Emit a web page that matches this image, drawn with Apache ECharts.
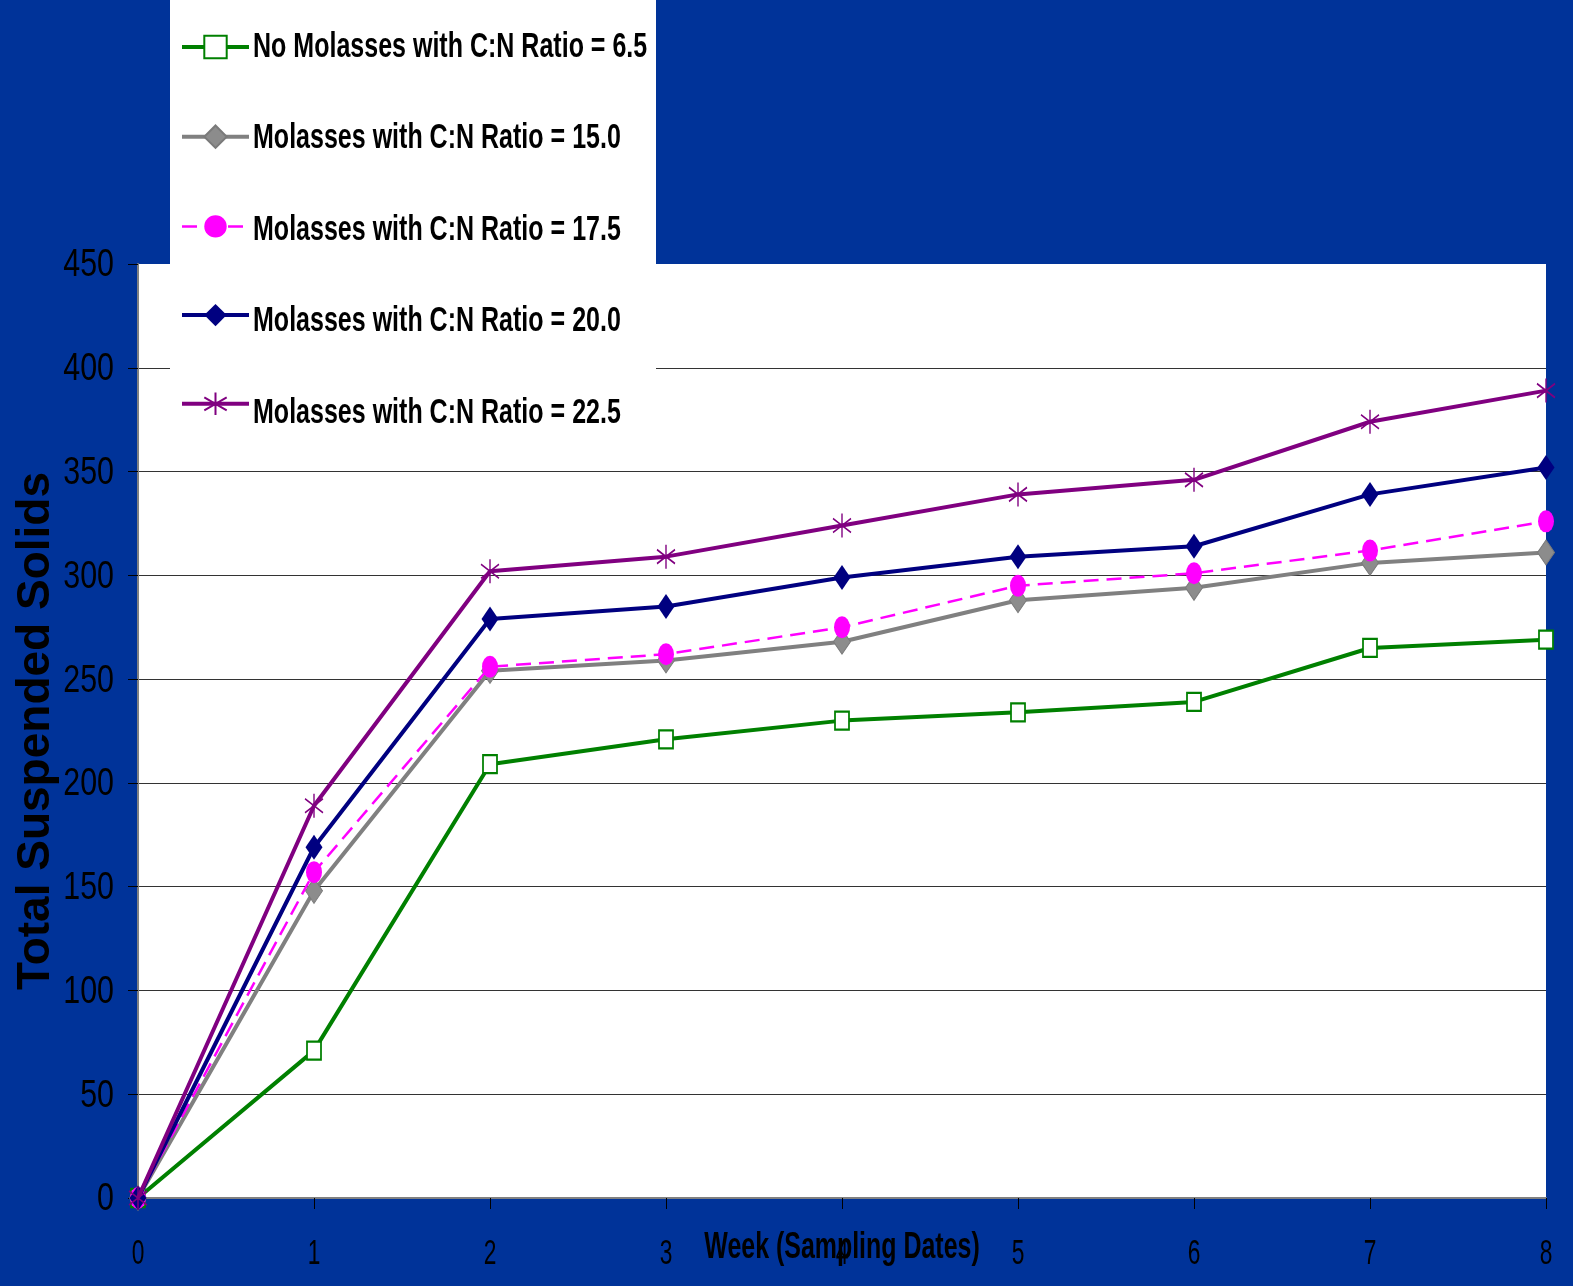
<!DOCTYPE html>
<html>
<head>
<meta charset="utf-8">
<script src="https://cdn.jsdelivr.net/npm/echarts@6/dist/echarts.min.js"></script>
<style>
html,body{margin:0;padding:0;background:#003399;overflow:hidden;}
#chart{width:1573px;height:1286px;}
</style>
</head>
<body>
<div id="chart"></div>
<script>
const weeks = ['0','1','2','3','4','5','6','7','8'];
const yTicks = [0, 50, 100, 150, 200, 250, 300, 350, 400, 450];
const seriesNames = [
  'No Molasses with C:N Ratio = 6.5',
  'Molasses with C:N Ratio = 15.0',
  'Molasses with C:N Ratio = 17.5',
  'Molasses with C:N Ratio = 20.0',
  'Molasses with C:N Ratio = 22.5'
];
const xAxisTitle = 'Week (Sampling Dates)';
const yAxisTitle = 'Total Suspended Solids';
const cn65  = [0, 71, 209, 221, 230, 234, 239, 265, 269];
const cn150 = [0, 148, 254, 259, 268, 288, 294, 306, 311];
const cn175 = [0, 157, 256, 262, 275, 295, 301, 312, 326];
const cn200 = [0, 169, 279, 285, 299, 309, 314, 339, 352];
const cn225 = [0, 189, 302, 309, 324, 339, 346, 374, 389];

const SANS = "'Liberation Sans',Arial,sans-serif";
const ASTERISK = 'path://M10,0 L10,24 M0,5 L20,19 M0,19 L20,5';

const chart = echarts.init(document.getElementById('chart'), null, {renderer:'canvas'});
const yMin = yTicks[0], yMax = yTicks[yTicks.length-1];
const gridColors = yTicks.map((v,i)=> i === yTicks.length-1 ? 'rgba(0,0,0,0)' : '#333333');

const legendTop = 47, legendStep = 91.5;
const lineWidths = [4, 4, 2.5, 4, 4];

chart.setOption({
  backgroundColor: '#003399',
  animation: false,
  legend: {
    orient: 'vertical',
    left: 180, top: legendTop - 14,
    padding: 0,
    itemWidth: 67, itemHeight: 28,
    itemGap: legendStep - 28,
    z: 5,
    formatter: () => '',
    textStyle: {fontSize: 1, color: 'rgba(0,0,0,0)'},
    data: seriesNames.map((n, i) => ({name: n, lineStyle: {width: lineWidths[i]}}))
  },
  grid: {
    left: 138, right: 27, top: 264, bottom: 88,
    show: true, backgroundColor: '#ffffff', borderWidth: 0,
    containLabel: false, outerBoundsMode: 'none'
  },
  xAxis: {
    type: 'category', data: weeks, boundaryGap: false,
    axisLine: {show: true, lineStyle: {color: '#808080', width: 2}},
    axisTick: {show: true, inside: false, length: 11, alignWithLabel: true, lineStyle: {color: '#000', width: 1}},
    axisLabel: {show: false},
    splitLine: {show: false}
  },
  yAxis: {
    type: 'value', min: yMin, max: yMax, interval: 50,
    name: yAxisTitle, nameLocation: 'middle', nameGap: 79, nameRotate: 90,
    nameTextStyle: {fontFamily: SANS, fontWeight: 'bold', fontSize: 46, color: '#000'},
    axisLine: {show: true, lineStyle: {color: '#808080', width: 2}},
    axisTick: {show: true, inside: false, length: 10, lineStyle: {color: '#000', width: 1}},
    axisLabel: {show: false},
    splitLine: {show: true, lineStyle: {color: gridColors, width: 1}}
  },
  series: [
    {
      name: seriesNames[0], type: 'line', data: cn65, clip: false,
      symbol: 'rect', symbolSize: [14, 18],
      lineStyle: {color: '#008000', width: lineWidths[0]},
      itemStyle: {color: '#ffffff', borderColor: '#008000', borderWidth: 2},
      z: 2
    },
    {
      name: seriesNames[1], type: 'line', data: cn150, clip: false,
      symbol: 'diamond', symbolSize: [17, 25],
      lineStyle: {color: '#808080', width: lineWidths[1]},
      itemStyle: {color: '#8c8c8c', borderColor: '#7a7a7a', borderWidth: 1},
      z: 3
    },
    {
      name: seriesNames[2], type: 'line', data: cn175, clip: false,
      symbol: 'circle', symbolSize: [16, 22],
      lineStyle: {color: '#ff00ff', width: lineWidths[2], type: [15, 8]},
      itemStyle: {color: '#ff00ff', borderWidth: 0},
      z: 4
    },
    {
      name: seriesNames[3], type: 'line', data: cn200, clip: false,
      symbol: 'diamond', symbolSize: [17, 25],
      lineStyle: {color: '#000080', width: lineWidths[3]},
      itemStyle: {color: '#000080', borderWidth: 0},
      z: 5
    },
    {
      name: seriesNames[4], type: 'line', data: cn225, clip: false,
      symbol: ASTERISK, symbolSize: [18, 24], symbolKeepAspect: false,
      lineStyle: {color: '#800080', width: lineWidths[4]},
      itemStyle: {color: '#800080', borderColor: '#800080', borderWidth: 1.6},
      z: 6
    }
  ]
});

// Condensed (narrow-face look) texts, placed through the library's own axis scales.
const axisX0 = chart.convertToPixel({xAxisIndex: 0}, weeks[0]);
const axisY0 = chart.convertToPixel({yAxisIndex: 0}, yMin);
const xMid = (chart.convertToPixel({xAxisIndex: 0}, weeks[0]) + chart.convertToPixel({xAxisIndex: 0}, weeks[weeks.length-1])) / 2;

const graphics = [{
  type: 'rect', left: 170, top: 0, z: 1,
  shape: {width: 486, height: 445},
  style: {fill: '#ffffff'}
}];
seriesNames.forEach((n, i) => graphics.push({
  type: 'text', x: 253, y: legendTop + i * legendStep, z: 6, scaleX: 0.715,
  style: {text: n, fontFamily: SANS, fontWeight: 'bold', fontSize: 35, fill: '#000',
          align: 'left', verticalAlign: 'middle'}
}));
yTicks.forEach(v => graphics.push({
  type: 'text', x: axisX0 - 24, y: chart.convertToPixel({yAxisIndex: 0}, v) + 2, z: 6, scaleX: 0.8,
  style: {text: String(v), fontFamily: SANS, fontSize: 38, fill: '#000',
          align: 'right', verticalAlign: 'middle'}
}));
weeks.forEach(w => graphics.push({
  type: 'text', x: chart.convertToPixel({xAxisIndex: 0}, w), y: axisY0 + 56, z: 6, scaleX: 0.65,
  style: {text: w, fontFamily: SANS, fontSize: 35, fill: '#000',
          align: 'center', verticalAlign: 'middle'}
}));
graphics.push({
  type: 'text', x: xMid, y: axisY0 + 50, z: 7, scaleX: 0.693,
  style: {text: xAxisTitle, fontFamily: SANS, fontWeight: 'bold', fontSize: 36, fill: '#000',
          align: 'center', verticalAlign: 'middle'}
});
chart.setOption({graphic: graphics});
</script>
</body>
</html>
